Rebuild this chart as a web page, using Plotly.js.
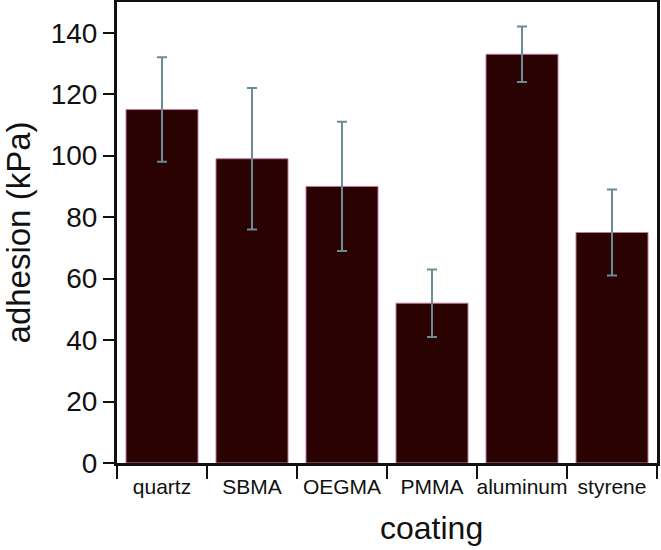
<!DOCTYPE html>
<html>
<head>
<meta charset="utf-8">
<script src="https://cdn.plot.ly/plotly-3.0.1.min.js"></script>
<style>html,body{margin:0;padding:0;background:#fff;}#chart{width:661px;height:550px;}</style>
</head>
<body>
<div id="chart"></div>
<script>
const categories = ["quartz", "SBMA", "OEGMA", "PMMA", "aluminum", "styrene"];
const adhesion = [115, 99, 90, 52, 133, 75];
const errors = [17, 23, 21, 11, 9, 14];
const yTicks = [0, 20, 40, 60, 80, 100, 120, 140];

const FONT = '"Liberation Sans", Arial, Helvetica, sans-serif';

const trace = {
  type: 'bar',
  x: categories,
  y: adhesion,
  marker: {color: '#2a0202', line: {color: '#c07a98', width: 1}},
  error_y: {type: 'data', array: errors, visible: true, color: '#6b8c94', thickness: 2, width: 5},
  hoverinfo: 'none'
};

const layout = {
  width: 661, height: 550,
  margin: {l: 117, r: 4, t: 2, b: 87},
  paper_bgcolor: '#fff', plot_bgcolor: '#fff',
  bargap: 0.2,
  showlegend: false,
  font: {family: FONT, color: '#111'},
  xaxis: {
    type: 'category',
    tickson: 'boundaries',
    tickangle: 0,
    ticks: 'outside', ticklen: 13, tickwidth: 2, tickcolor: '#111',
    ticklabelstandoff: 3,
    showline: true, linewidth: 3, linecolor: '#111', mirror: true,
    showgrid: false, zeroline: false,
    tickfont: {size: 21, family: FONT, color: '#111'}
  },
  yaxis: {
    range: [0, 150],
    tickvals: yTicks,
    ticktext: yTicks.map(String),
    ticks: 'outside', ticklen: 11, tickwidth: 2, tickcolor: '#111',
    showline: true, linewidth: 3, linecolor: '#111', mirror: true,
    showgrid: false, zeroline: false,
    tickfont: {size: 28, family: FONT, color: '#111'},
    title: {text: 'adhesion (kPa)', font: {size: 33, family: FONT, color: '#111'}, standoff: 14}
  },
  annotations: [{
    text: 'coating', xref: 'paper', yref: 'paper',
    x: 0.583, y: -0.141, xanchor: 'center', yanchor: 'middle',
    showarrow: false, font: {size: 32, family: FONT, color: '#111'}
  }]
};

Plotly.newPlot('chart', [trace], layout, {displayModeBar: false, staticPlot: true});
</script>
</body>
</html>
